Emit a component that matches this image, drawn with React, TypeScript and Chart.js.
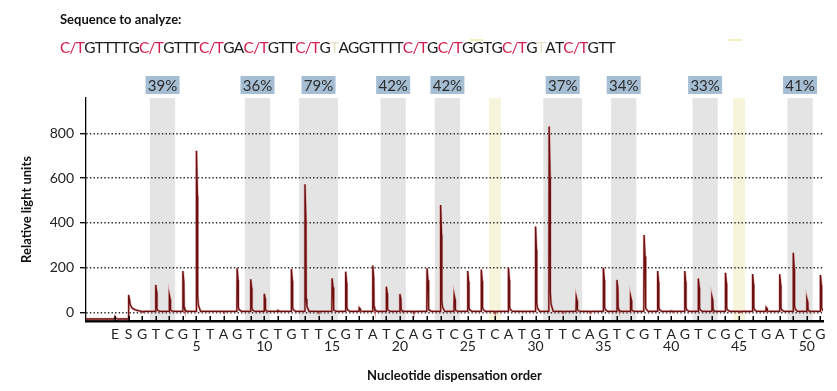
import React, { useEffect, useRef } from "react";
import { Chart, registerables } from "chart.js";

Chart.register(...registerables);

// ---- data ----
// dispensation order: E (enzyme) = -1, S (substrate) = 0, then 1..51
const DISPENSATION_LABELS = [
  "E", "S",
  "G", "T", "C", "G", "T", "T", "A", "G", "T", "C",
  "T", "G", "T", "T", "C", "G", "T", "A", "T", "C",
  "A", "G", "T", "C", "G", "T", "C", "A", "T", "G",
  "T", "T", "C", "A", "G", "T", "C", "G", "T", "A",
  "G", "T", "C", "G", "C", "T", "G", "A", "T", "C",
  "G",
];
const DISPENSATION_POSITIONS = DISPENSATION_LABELS.map((_, i) => i - 1);

// peak heights (RLU) for dispensations 1..51
const PEAK_HEIGHTS = [
  3, 124, 79, 186, 722, 6, 4, 198, 149, 84,
  10, 195, 572, 4, 153, 183, 22, 210, 116, 83,
  3, 198, 480, 79, 186, 192, 3, 200, 5, 384,
  830, 4, 71, 4, 200, 146, 74, 346, 186, 8,
  186, 152, 72, 178, 3, 172, 24, 171, 267, 64,
  168,
];

// trace before the first nucleotide (enzyme + substrate signal)
const PRE_BASELINE = -28;
const BASELINE = 6;
const ENZYME_TRACE: [number, number][] = [[-1.02, -28], [-1, -19], [-0.93, -26], [-0.8, -28]];
const SUBSTRATE_TRACE: [number, number][] = [
  [-0.03, -28], [0, 79], [0.06, 60], [0.12, 36], [0.25, 21], [0.45, 14], [0.7, 9], [0.95, 6],
];
// shape of one pyrogram peak: [offset, fraction of height]
const PEAK_SHAPE: [number, number][] = [
  [-0.02, 0], [0, 1], [0.07, 0.72], [0.09, 0.1], [0.14, 0.04], [0.3, 0],
];

const Y_TICKS = [0, 200, 400, 600, 800];
const METHYLATION_LABELS = ["39%", "36%", "79%", "42%", "42%", "37%", "34%", "33%", "41%"];
const CPG_SITES: [number, number][] = [
  [2, 3], [9, 10], [13, 15], [19, 20], [23, 24], [31, 33], [36, 37], [42, 43], [49, 50],
];
const BISULFITE_CONTROLS = [27, 45];

type Part = [string, "cpg" | "base" | "ctrl"];
const SEQUENCE_PARTS: Part[] = [
  ["C/T", "cpg"], ["GTTTTG", "base"], ["C/T", "cpg"], ["GTTT", "base"], ["C/T", "cpg"],
  ["GA", "base"], ["C/T", "cpg"], ["GTT", "base"], ["C/T", "cpg"], ["G", "base"],
  ["T", "ctrl"], ["AGGTTTT", "base"], ["C/T", "cpg"], ["G", "base"], ["C/T", "cpg"],
  ["GGTG", "base"], ["C/T", "cpg"], ["G", "base"], ["T", "ctrl"], ["AT", "base"],
  ["C/T", "cpg"], ["GTT", "base"],
];

const X_MIN = -3.143;
const X_MAX = 51.19;
const Y_MIN = -37;
const Y_MAX = 957;
const FONT = "Lato";

function buildTrace() {
  const pts: { x: number; y: number }[] = [{ x: X_MIN, y: PRE_BASELINE }];
  ENZYME_TRACE.forEach(([x, y]) => pts.push({ x, y }));
  SUBSTRATE_TRACE.forEach(([x, y]) => pts.push({ x, y }));
  PEAK_HEIGHTS.forEach((h, k) => {
    const pos = k + 1;
    PEAK_SHAPE.forEach(([dx, f]) => pts.push({ x: pos + dx, y: BASELINE + f * (h - BASELINE) }));
  });
  pts.push({ x: X_MAX, y: BASELINE });
  return pts;
}

const decorPlugin = {
  id: "decor",
  beforeDraw(chart: any) {
    const { ctx, chartArea } = chart;
    const xs = chart.scales.x;
    ctx.save();
    ctx.fillStyle = "#e4e4e4";
    CPG_SITES.forEach(([a, b]) => {
      const x1 = xs.getPixelForValue(a - 0.43);
      const x2 = xs.getPixelForValue(b + 0.43);
      ctx.fillRect(x1, chartArea.top, x2 - x1, chartArea.bottom - chartArea.top);
    });
    ctx.fillStyle = "#f6f5dc";
    BISULFITE_CONTROLS.forEach((p) => {
      const x1 = xs.getPixelForValue(p - 0.44);
      const x2 = xs.getPixelForValue(p + 0.44);
      ctx.fillRect(x1, chartArea.top, x2 - x1, chartArea.bottom - chartArea.top);
    });
    ctx.restore();
  },
  afterDatasetsDraw(chart: any) {
    const { ctx, chartArea } = chart;
    const xs = chart.scales.x;
    ctx.save();
    ctx.strokeStyle = "#000";
    ctx.lineWidth = 1.5;
    DISPENSATION_POSITIONS.forEach((p) => {
      const x = Math.round(xs.getPixelForValue(p)) + 0.25;
      ctx.beginPath();
      ctx.moveTo(x, chartArea.bottom - 5);
      ctx.lineTo(x, chartArea.bottom);
      ctx.stroke();
    });
    ctx.restore();
  },
  afterDraw(chart: any) {
    const { ctx } = chart;
    const xs = chart.scales.x;
    ctx.save();
    // methylation percentage boxes
    CPG_SITES.forEach(([a, b], i) => {
      const cx = (xs.getPixelForValue(a - 0.43) + xs.getPixelForValue(b + 0.43)) / 2;
      ctx.fillStyle = "#a6bed4";
      ctx.fillRect(cx - 17, 76, 34, 18);
      ctx.fillStyle = "#2b2b2b";
      ctx.font = `15px ${FONT}`;
      ctx.textAlign = "center";
      ctx.textBaseline = "alphabetic";
      ctx.fillText(METHYLATION_LABELS[i], cx, 90.5);
    });
    // header
    ctx.textAlign = "left";
    ctx.fillStyle = "#111";
    ctx.font = `bold 13px ${FONT}`;
    ctx.fillText("Sequence to analyze:", 60, 24);
    ctx.font = `15.5px ${FONT}`;
    const total = SEQUENCE_PARTS.reduce((s, [t]) => s + ctx.measureText(t).width, 0);
    const nChars = SEQUENCE_PARTS.reduce((s, [t]) => s + t.length, 0);
    const spacing = (553 - total) / (nChars - 1);
    let x = 60;
    SEQUENCE_PARTS.forEach(([t, kind]) => {
      ctx.fillStyle = kind === "cpg" ? "#d2204f" : kind === "ctrl" ? "#e6e2c6" : "#1c1c1c";
      for (const ch of t) {
        ctx.fillText(ch, x, 53);
        x += ctx.measureText(ch).width + spacing;
      }
    });
    // small yellow marks above the sequence
    ctx.strokeStyle = "#efeba8";
    ctx.lineWidth = 1.5;
    ctx.beginPath();
    ctx.moveTo(470, 40);
    ctx.lineTo(483, 40);
    ctx.moveTo(728, 40);
    ctx.lineTo(742, 40);
    ctx.stroke();
    ctx.restore();
  },
};

export default function App() {
  const ref = useRef<HTMLCanvasElement | null>(null);
  useEffect(() => {
    if (!ref.current) return;
    const trace = buildTrace();
    const chart = new Chart(ref.current, {
      type: "line",
      data: {
        datasets: [
          { data: trace, borderColor: "#6b1010", borderWidth: 1.3, pointRadius: 0, tension: 0 },
          { data: trace, borderColor: "rgba(220,140,140,0.7)", borderWidth: 2.5, pointRadius: 0, tension: 0 },
        ],
      },
      options: {
        responsive: false,
        animation: false,
        events: [],
        layout: { padding: { left: 0, right: 14, top: 98, bottom: 0 } },
        plugins: { legend: { display: false }, tooltip: { enabled: false } },
        scales: {
          x: {
            type: "linear",
            min: X_MIN,
            max: X_MAX,
            afterBuildTicks: (s: any) => {
              s.ticks = DISPENSATION_POSITIONS.map((v) => ({ value: v }));
            },
            afterFit: (s: any) => {
              s.height = 70;
            },
            grid: { display: false, drawTicks: false },
            border: { display: true, color: "#000", width: 2.5 },
            ticks: {
              autoSkip: false,
              maxRotation: 0,
              minRotation: 0,
              padding: 8,
              color: "#222",
              font: { family: FONT, size: 14, lineHeight: 0.82 },
              callback: (_v: any, i: number) => {
                const pos = DISPENSATION_POSITIONS[i];
                const l = DISPENSATION_LABELS[i];
                return pos > 0 && pos % 5 === 0 ? [l, String(pos)] : l;
              },
            },
            title: {
              display: true,
              text: "Nucleotide dispensation order",
              color: "#111",
              font: { family: FONT, size: 13, weight: "bold" },
              padding: { top: 0, bottom: 7 },
            },
          },
          y: {
            min: Y_MIN,
            max: Y_MAX,
            afterBuildTicks: (s: any) => {
              s.ticks = Y_TICKS.map((v) => ({ value: v }));
            },
            afterFit: (s: any) => {
              s.width = 86;
            },
            grid: {
              color: "#2a2a2a",
              lineWidth: 1.4,
              drawTicks: true,
              tickLength: 6,
              tickColor: "#000",
              tickWidth: 1.3,
              tickBorderDash: [],
            },
            border: { display: true, color: "#000", width: 1.3, dash: [1.4, 2.2] },
            ticks: { padding: 6, color: "#222", font: { family: FONT, size: 14 } },
            title: {
              display: true,
              text: "Relative light units",
              color: "#111",
              font: { family: FONT, size: 13, weight: "bold" },
              padding: { top: 19, bottom: 0 },
            },
          },
        },
      },
      plugins: [decorPlugin],
    } as any);
    return () => chart.destroy();
  }, []);
  return (
    <div style={{ position: "absolute", left: 0, top: 0, width: 837, height: 391, background: "#fff" }}>
      <canvas ref={ref} width={837} height={391} style={{ display: "block" }} />
    </div>
  );
}
